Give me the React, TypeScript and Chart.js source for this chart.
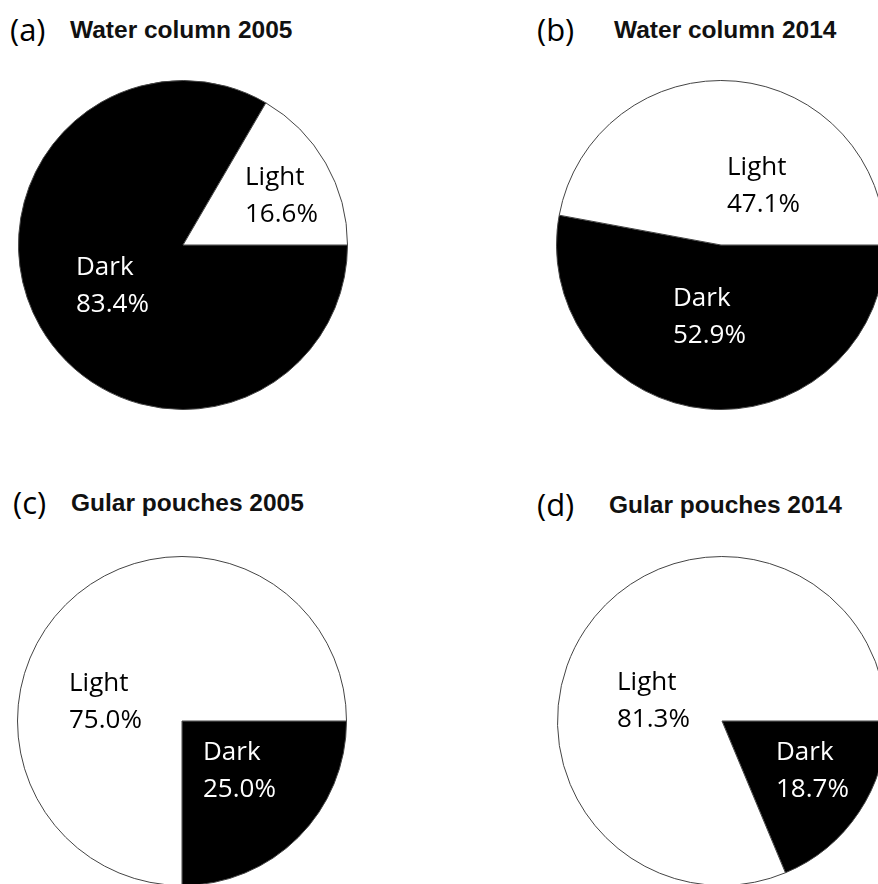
import React, { useEffect, useRef } from 'react';
import { Chart, registerables } from 'chart.js';

Chart.register(...registerables);

// ---- data ----
const categories = ['Dark', 'Light'];
const panelLetters = ['(a)', '(b)', '(c)', '(d)'];
const panelTitles = ['Water column 2005', 'Water column 2014', 'Gular pouches 2005', 'Gular pouches 2014'];
const darkValues = [83.4, 52.9, 25.0, 18.7];
const lightValues = [16.6, 47.1, 75.0, 81.3];

// ---- styles / layout ----
const sliceColors = ['#000000', '#ffffff'];
const labelColors = ['#ffffff', '#000000'];
const PIE_SIZE = 330;
const panelCenters = [[183, 245], [721, 245], [182, 721], [722, 721]];
const titleCenterY = [30, 30, 503, 505];
const letterLefts = [10, 537, 13, 537];
const titleLefts = [70, 614, 71, 609];
// label offsets (left x, first baseline) relative to pie centre, per slice [Dark, Light]
const labelOffsets = [
  [[-107, 30], [62, -60]],
  [[-48, 61], [6, -70]],
  [[21, 39], [-113, -30]],
  [[54, 39], [-105, -31]],
];
const LINE_GAP = 37;

const sliceLabelPlugin = {
  id: 'sliceLabels',
  afterDatasetsDraw(chart: any, _args: any, opts: any) {
    const ctx = chart.ctx;
    const meta = chart.getDatasetMeta(0);
    const values = chart.data.datasets[0].data as number[];
    ctx.save();
    ctx.font = '26px "Open Sans", sans-serif';
    ctx.textAlign = 'left';
    ctx.textBaseline = 'alphabetic';
    meta.data.forEach((arc: any, i: number) => {
      const off = opts.offsets[i];
      const x = arc.x + off[0];
      const y = arc.y + off[1];
      ctx.fillStyle = labelColors[i];
      ctx.fillText(String(chart.data.labels[i]), x, y);
      ctx.fillText(values[i].toFixed(1) + '%', x, y + LINE_GAP);
    });
    ctx.restore();
  },
};

function PiePanel({ index }: { index: number }) {
  const ref = useRef<HTMLCanvasElement | null>(null);
  useEffect(() => {
    if (!ref.current) return;
    const chart = new Chart(ref.current, {
      type: 'pie',
      data: {
        labels: categories,
        datasets: [
          {
            data: [darkValues[index], lightValues[index]],
            backgroundColor: sliceColors,
            borderColor: '#444444',
            borderWidth: 1,
          },
        ],
      },
      options: {
        responsive: false,
        animation: false,
        rotation: 90,
        layout: { padding: 0 },
        plugins: {
          legend: { display: false },
          tooltip: { enabled: false },
          sliceLabels: { offsets: labelOffsets[index] },
        } as any,
      },
      plugins: [sliceLabelPlugin],
    });
    return () => chart.destroy();
  }, [index]);
  const [cx, cy] = panelCenters[index];
  return (
    <>
      <div
        style={{
          position: 'absolute',
          left: letterLefts[index],
          top: titleCenterY[index] - 21,
          font: '31px "Open Sans", sans-serif',
          lineHeight: '40px',
          color: '#000',
        }}
      >
        {panelLetters[index]}
      </div>
      <div
        style={{
          position: 'absolute',
          left: titleLefts[index],
          top: titleCenterY[index] - 12,
          font: 'bold 24.5px "Liberation Sans", Arial, sans-serif',
          lineHeight: '24px',
          color: '#111',
          whiteSpace: 'nowrap',
        }}
      >
        {panelTitles[index]}
      </div>
      <canvas
        ref={ref}
        width={PIE_SIZE}
        height={PIE_SIZE}
        style={{
          position: 'absolute',
          left: cx - PIE_SIZE / 2,
          top: cy - PIE_SIZE / 2,
          width: PIE_SIZE,
          height: PIE_SIZE,
        }}
      />
    </>
  );
}

export default function App() {
  return (
    <div
      style={{
        position: 'fixed',
        left: 0,
        top: 0,
        width: 878,
        height: 884,
        overflow: 'hidden',
        background: '#ffffff',
      }}
    >
      {[0, 1, 2, 3].map((i) => (
        <PiePanel key={i} index={i} />
      ))}
    </div>
  );
}
